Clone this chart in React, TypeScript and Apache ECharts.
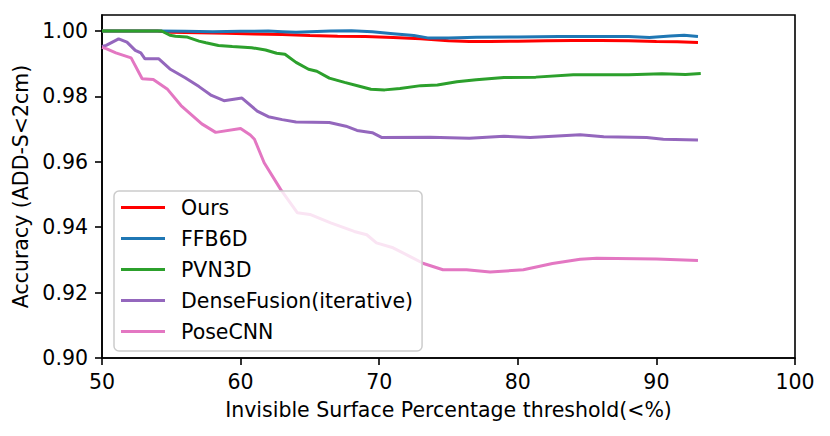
import React, { useEffect, useRef } from "react";
import * as echarts from "echarts";

const seriesNames = ["Ours", "FFB6D", "PVN3D", "DenseFusion(iterative)", "PoseCNN"];
const seriesColors = ["#ff0000", "#1f77b4", "#2ca02c", "#9467bd", "#e377c2"];

const xTicks = [50, 60, 70, 80, 90, 100];
const yTicks = [0.9, 0.92, 0.94, 0.96, 0.98, 1.0];

const ours = [
  [50, 1.0], [54, 1.0], [55, 0.9996], [57, 0.9995], [59, 0.9993], [61, 0.9991], [63, 0.9989],
  [65, 0.9986], [67, 0.9984], [69, 0.9983], [71, 0.998], [73, 0.9976], [75, 0.997],
  [76.5, 0.9968], [78, 0.9968], [80, 0.9969], [82, 0.997], [84, 0.9971], [86, 0.9971],
  [88, 0.997], [90, 0.9968], [91.5, 0.9967], [93, 0.9965],
];

const ffb6d = [
  [50, 1.0], [54, 1.0], [56, 0.9999], [58, 0.9998], [60, 0.9999], [62, 1.0], [63, 0.9998],
  [64, 0.9996], [65, 0.9998], [66.5, 1.0], [68, 1.0001], [69.5, 0.9998], [71, 0.9992],
  [72.5, 0.9986], [73.5, 0.9979], [75, 0.9979], [77, 0.9981], [80, 0.9982], [83, 0.9983],
  [86, 0.9983], [88, 0.9983], [89.5, 0.998], [91, 0.9985], [92, 0.9987], [93, 0.9983],
];

const pvn3d = [
  [50, 1.0], [54.3, 1.0], [54.9, 0.9987], [55.3, 0.9984], [56.1, 0.9982], [57, 0.9969],
  [57.5, 0.9964], [58.4, 0.9956], [59.4, 0.9953], [60.8, 0.9949], [61.8, 0.9942],
  [62.6, 0.9932], [63.2, 0.9929], [64, 0.9904], [64.9, 0.9883], [65.5, 0.9877],
  [66.4, 0.9856], [67.5, 0.9843], [68.5, 0.9832], [69.4, 0.9822], [70.4, 0.982],
  [71.5, 0.9824], [73, 0.9833], [74.2, 0.9835], [75.6, 0.9845], [77, 0.9851], [79, 0.9858],
  [81.3, 0.9859], [84, 0.9866], [86.4, 0.9866], [88, 0.9866], [90.4, 0.9869],
  [92.1, 0.9867], [93.2, 0.987],
];

const denseFusion = [
  [50, 0.9953], [50.3, 0.9956], [51.2, 0.9976], [51.8, 0.9966], [52.4, 0.9941],
  [52.8, 0.9933], [53.1, 0.9915], [54.1, 0.9915], [54.9, 0.9884], [56, 0.9857], [57, 0.983],
  [57.9, 0.9803], [58.8, 0.9787], [60.1, 0.9795], [61.2, 0.9755], [62, 0.9738], [63, 0.9729],
  [64, 0.9722], [66.4, 0.972], [67.6, 0.9709], [68.4, 0.9696], [69.5, 0.9689], [70.2, 0.9674],
  [73.7, 0.9675], [76.5, 0.9672], [79, 0.9678], [80.9, 0.9674], [84.5, 0.9683],
  [86.2, 0.9677], [89.3, 0.9674], [90.5, 0.9669], [93, 0.9667],
];

const poseCNN = [
  [50, 0.995], [50.3, 0.9946], [51, 0.9933], [52.1, 0.9918], [52.9, 0.9854], [53.7, 0.9852],
  [54.7, 0.9823], [55.7, 0.9772], [57.2, 0.9716], [58.2, 0.969], [60, 0.9702], [60.7, 0.9682],
  [61, 0.9669], [61.7, 0.9597], [62.9, 0.9515], [64.1, 0.9444], [65, 0.9439], [66.5, 0.9413],
  [68.2, 0.9387], [69.1, 0.9377], [69.8, 0.9352], [71, 0.9337], [72.2, 0.9311], [73.2, 0.9289],
  [74.6, 0.927], [76.3, 0.927], [78, 0.9263], [80.4, 0.927], [81.5, 0.928], [82.5, 0.9289],
  [84.5, 0.9302], [85.7, 0.9305], [90, 0.9303], [93, 0.9298],
];

const seriesData = [ours, ffb6d, pvn3d, denseFusion, poseCNN];

const FONT = "DejaVu Sans";
const FS = 20.5;

export default function App() {
  const ref = useRef<HTMLDivElement>(null);
  useEffect(() => {
    if (!ref.current) return;
    const chart = echarts.init(ref.current, null, { renderer: "svg" });
    chart.setOption({
      animation: false,
      backgroundColor: "#ffffff",
      grid: {
        left: 102,
        right: 35,
        top: 15,
        bottom: 78,
        show: true,
        borderColor: "#000",
        borderWidth: 1.6,
        backgroundColor: "transparent",
      },
      legend: {
        orient: "vertical",
        left: 114,
        top: 191,
        padding: [6, 9, 9, 7],
        itemGap: 10,
        itemWidth: 44,
        itemHeight: 3,
        icon: "rect",
        backgroundColor: "rgba(255,255,255,0.8)",
        borderColor: "#cccccc",
        borderWidth: 1.5,
        borderRadius: 5,
        textStyle: {
          fontSize: FS,
          fontFamily: FONT,
          color: "#000",
          lineHeight: 20,
          padding: [0, 0, 0, 11],
        },
        data: seriesNames,
      },
      xAxis: {
        type: "value",
        min: 50,
        max: 100,
        interval: 10,
        name: "Invisible Surface Percentage threshold(<%)",
        nameLocation: "middle",
        nameGap: 41,
        nameTextStyle: { fontSize: FS, fontFamily: FONT, color: "#000" },
        splitLine: { show: false },
        axisLine: { show: true, lineStyle: { color: "#000", width: 1.6 } },
        axisTick: { show: true, length: 7, lineStyle: { color: "#000", width: 1.6 }, customValues: xTicks },
        axisLabel: { fontSize: FS, fontFamily: FONT, color: "#000", margin: 13, customValues: xTicks },
      },
      yAxis: {
        type: "value",
        min: 0.9,
        max: 1.0049,
        name: "Accuracy (ADD-S<2cm)",
        nameLocation: "middle",
        nameGap: 67,
        nameTextStyle: { fontSize: FS, fontFamily: FONT, color: "#000" },
        splitLine: { show: false },
        axisLine: { show: true, lineStyle: { color: "#000", width: 1.6 } },
        axisTick: { show: true, length: 7, lineStyle: { color: "#000", width: 1.6 }, customValues: yTicks },
        axisLabel: {
          fontSize: FS,
          fontFamily: FONT,
          color: "#000",
          margin: 14,
          customValues: yTicks,
          formatter: (v: number) => v.toFixed(2),
        },
      },
      series: seriesNames.map((name, i) => ({
        name,
        type: "line",
        data: seriesData[i],
        showSymbol: false,
        symbol: "none",
        color: seriesColors[i],
        itemStyle: { color: seriesColors[i] },
        lineStyle: { color: seriesColors[i], width: 3 },
        z: 2 + i * 0.01,
      })),
    });
    return () => chart.dispose();
  }, []);
  return (
    <div
      ref={ref}
      style={{ position: "fixed", left: 0, top: 0, width: 830, height: 436, background: "#fff" }}
    />
  );
}
